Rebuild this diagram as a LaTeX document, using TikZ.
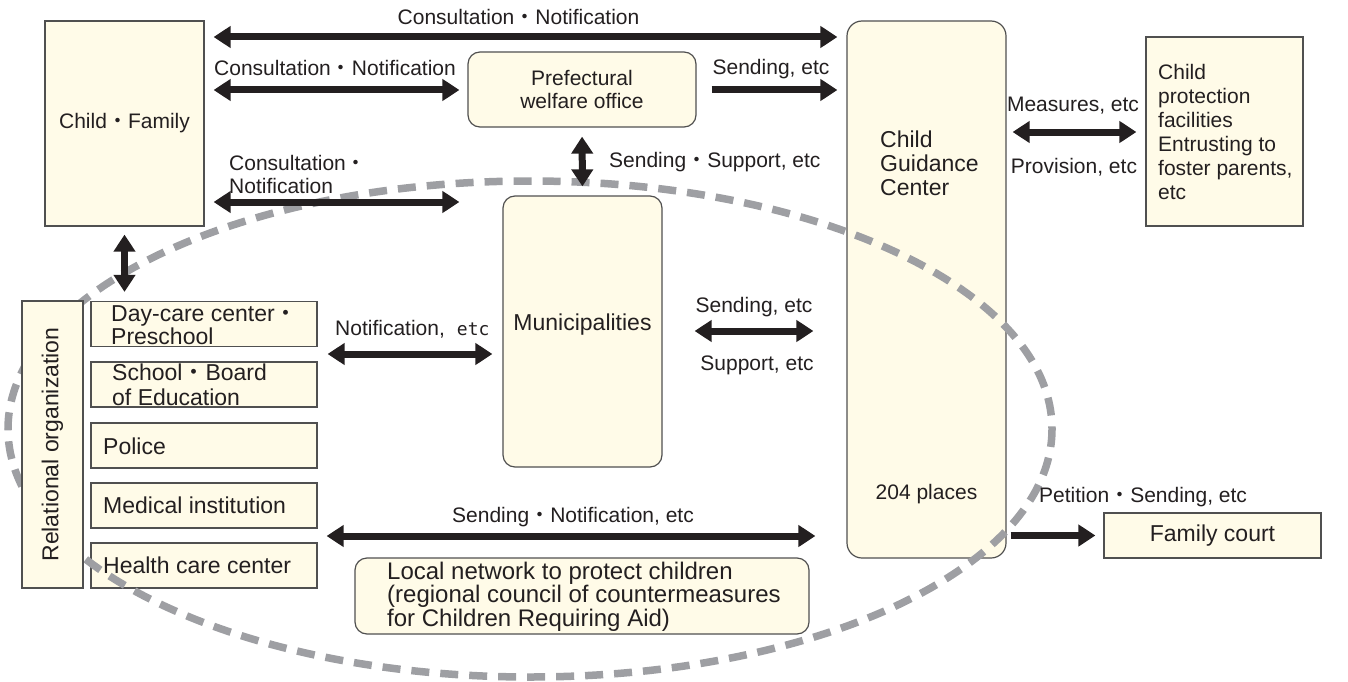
\documentclass[tikz,border=0pt]{standalone}
\usepackage{fontspec}
\setmainfont{Liberation Sans}
\newfontfamily\jfont{Noto Sans CJK JP}
\newfontfamily\etcfont{DejaVu Sans Mono}
\newcommand{\jdot}{{\jfont ・}}
\usetikzlibrary{arrows.meta}
\definecolor{cream}{RGB}{255,251,232}
\definecolor{edgegray}{RGB}{80,80,80}
\definecolor{ink}{RGB}{35,31,32}
\definecolor{ringgray}{RGB}{158,159,163}
\tikzstyle{none} = [inner sep=0pt]
\tikzstyle{txt} = [inner sep=0pt, text=ink, font=\fontsize{21}{23}\selectfont]
\tikzstyle{bigtxt} = [txt, font=\fontsize{23}{24}\selectfont]
\tikzstyle{box} = [txt, draw=edgegray, fill=cream, line width=1.2pt]
\tikzstyle{rbox} = [box, rounded corners=12pt]
\tikzstyle{both} = [draw=ink, line width=7pt, {Triangle[width=21pt,length=17pt]}-{Triangle[width=21pt,length=17pt]}]
\tikzstyle{one} = [draw=ink, line width=7pt, -{Triangle[width=21pt,length=17pt]}]
\tikzstyle{ring} = [draw=ringgray, line width=7.5pt, dash pattern=on 18pt off 11pt]

\begin{document}
\begin{tikzpicture}[x=1pt, y=-1pt]
	\useasboundingbox (0,0) rectangle (1348,682);
	% boxes under the ring
	\node [style=box, minimum width=159, minimum height=205] (0) at (124.5,123.5) {Child\jdot Family};
	\node [style=rbox, minimum width=228, minimum height=75, align=center] (1) at (582,89.5) {Prefectural\\welfare office};
	\node [style=rbox, rounded corners=15pt, minimum width=159, minimum height=537] (2) at (926.5,289.5) {};
	\node [style=box, minimum width=157, minimum height=189] (3) at (1224.5,131.5) {};
	\node [style=box, minimum width=226, minimum height=45] (5) at (204,324) {};
	\node [style=box, minimum width=226, minimum height=45] (6) at (204,384.5) {};
	\node [style=box, minimum width=226, minimum height=45] (7) at (204,445.5) {};
	\node [style=box, minimum width=226, minimum height=45] (8) at (204,505.5) {};
	\node [style=box, minimum width=226, minimum height=45] (9) at (204,565.5) {};
	\node [style=rbox, minimum width=159, minimum height=271] (10) at (582.5,331.5) {};
	\node [style=rbox, minimum width=454, minimum height=76] (11) at (582,596) {};
	\node [style=box, font=\fontsize{23}{24}\selectfont, minimum width=217, minimum height=45] (12) at (1212.5,535.5) {Family court};
	% dashed ring
	\draw [style=ring] (530,429) ellipse [x radius=522, y radius=248];
	% box over the ring
	\node [style=box, font=\fontsize{23}{24}\selectfont, rotate=90, minimum width=287, minimum height=61] (4) at (52.5,444.5) {Relational organization};
	% texts
	\node [style=bigtxt] (34) at (582.5,325) {Municipalities};
	\node [style=bigtxt, anchor=north west, align=left] (13) at (880,131) {Child\\Guidance\\Center};
	\node [style=txt] (14) at (926.5,494) {204 places};
	\node [style=txt, anchor=west, align=left, font=\fontsize{21}{24}\selectfont] (15) at (1158,131.5) {Child\\protection\\facilities\\Entrusting to\\foster parents,\\etc};
	\node [style=bigtxt, anchor=west, align=left, font=\fontsize{23}{23}\selectfont] (16) at (111,325.5) {Day-care center\jdot\\Preschool};
	\node [style=bigtxt, anchor=west, align=left, font=\fontsize{23}{25}\selectfont] (17) at (112,384.5) {School\jdot Board\\of Education};
	\node [style=bigtxt, anchor=west] (18) at (103,446) {Police};
	\node [style=bigtxt, anchor=west] (19) at (103,505.5) {Medical institution};
	\node [style=bigtxt, anchor=west] (20) at (103,565.5) {Health care center};
	\node [style=txt, anchor=west, align=left, font=\fontsize{24}{21}\selectfont] (21) at (387,596.5) {Local network to protect children\\(regional council of countermeasures\\for Children Requiring Aid)};
	\node [style=txt] (22) at (518.5,17) {Consultation\jdot Notification};
	\node [style=txt, anchor=west] (23) at (214,68) {Consultation\jdot Notification};
	\node [style=txt] (24) at (771,69) {Sending, etc};
	\node [style=txt, anchor=west] (25) at (609,162) {Sending\jdot Support, etc};
	\node [style=txt, anchor=north west, align=left] (26) at (229,155) {Consultation\jdot\\Notification};
	\node [style=txt] (27) at (1073,106) {Measures, etc};
	\node [style=txt] (28) at (1074,167) {Provision, etc};
	\node [style=txt, anchor=west] (29) at (335,329) {Notification,\hspace{12pt}{\etcfont\fontsize{18}{20}\selectfont etc}};
	\node [style=txt] (30) at (754,307) {Sending, etc};
	\node [style=txt] (31) at (757,365) {Support, etc};
	\node [style=txt] (32) at (573,517) {Sending\jdot Notification, etc};
	\node [style=txt, anchor=west] (33) at (1039,497) {Petition\jdot Sending, etc};
	% arrows
	\draw [style=both, shorten <=9pt, shorten >=9pt] (0.east |- 0,37) to (2.west |- 0,37);
	\draw [style=both, shorten <=9pt, shorten >=8pt] (0.east |- 0,90) to (1.west |- 0,90);
	\draw [style=one, shorten <=15pt, shorten >=9pt] (1.east |- 0,90) to (2.west |- 0,90);
	\draw [style=both, shorten <=9pt, shorten >=9pt] (1.south) to (10.north);
	\draw [style=both, shorten <=9pt, shorten >=43pt] (0.east |- 0,202) to (10.west |- 0,202);
	\draw [style=both, shorten <=6pt, shorten >=9pt] (2.east |- 0,132) to (3.west |- 0,132);
	\draw [style=both, shorten <=8pt, shorten >=9pt] (0.south) to (0.south |- 5.north);
	\draw [style=both, shorten <=10pt, shorten >=10pt] (5.east |- 0,354) to (10.west |- 0,354);
	\draw [style=both, shorten <=32pt, shorten >=33pt] (10.east |- 0,331) to (2.west |- 0,331);
	\draw [style=both, shorten <=9pt, shorten >=31pt] (9.east |- 0,536) to (2.west |- 0,536);
	\draw [style=one, shorten <=4pt, shorten >=8pt] (2.east |- 12.west) to (12.west);
\end{tikzpicture}
\end{document}
